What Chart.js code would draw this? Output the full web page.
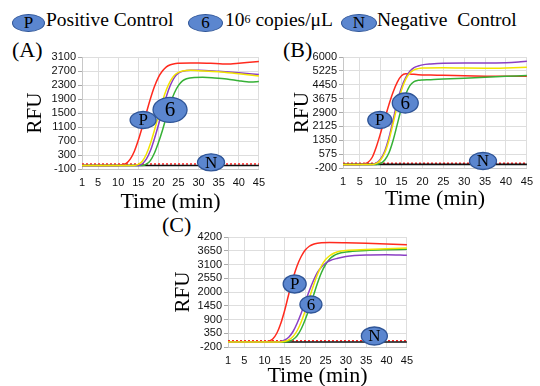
<!DOCTYPE html>
<html><head><meta charset="utf-8">
<script src="https://cdn.jsdelivr.net/npm/chart.js@4.4.1/dist/chart.umd.min.js"></script>
<style>
html,body{margin:0;padding:0;background:#fff;}
body{width:540px;height:386px;position:relative;overflow:hidden;font-family:"Liberation Serif",serif;color:#000;}
.cv{position:absolute;}
.plab{position:absolute;font:22px "Liberation Serif",serif;line-height:22px;}
.leg{position:absolute;top:9px;font:19.5px "Liberation Serif",serif;line-height:22px;white-space:nowrap;}
.ell{position:absolute;top:14px;height:18px;border-radius:50%;background:#5b86cf;border:1.3px solid #2f5597;box-sizing:border-box;text-align:center;font:17px "Liberation Serif",serif;line-height:16px;}
sup{font-size:12px;vertical-align:top;position:relative;top:-1px;}
</style></head>
<body>
<div class="ell" style="left:12px;width:33px">P</div><div class="leg" style="left:46px">Positive Control</div>
<div class="ell" style="left:188px;width:35px">6</div><div class="leg" style="left:225px">10<sup>6</sup> copies/μL</div>
<div class="ell" style="left:341px;width:36px">N</div><div class="leg" style="left:377px">Negative&nbsp; Control</div>

<div class="plab" style="left:12px;top:39px">(A)</div>
<div class="plab" style="left:283px;top:39px">(B)</div>
<div class="plab" style="left:162px;top:214px">(C)</div>

<canvas id="cA" class="cv" width="272" height="176" style="left:0;top:40px"></canvas>
<canvas id="cB" class="cv" width="270" height="176" style="left:270px;top:40px"></canvas>
<canvas id="cC" class="cv" width="260" height="168" style="left:160px;top:220px"></canvas>

<script>
// ---------- data ----------
const xTicks = [1,5,10,15,20,25,30,35,40,45];
const yTicksA = [-100,300,700,1100,1500,1900,2300,2700,3100];
const yTicksB = [-200,575,1350,2125,2900,3675,4450,5225,6000];
const yTicksC = [-200,350,900,1450,2000,2550,3100,3650,4200];

// Panel A
const aPosT = [1,10,11,12,13,14,15,16,17,18,19,20,21,22,23,24,25,28,30,33,36,38,40,42,45];
const aPosV = [0,0,20,60,180,400,720,1100,1500,1900,2250,2520,2700,2820,2880,2910,2920,2930,2930,2920,2900,2900,2920,2940,2970];
const aYelT = [1,14,15,16,17,18,19,20,21,22,23,24,25,26,28,30,35,40,45];
const aYelV = [0,0,30,120,320,620,1000,1420,1830,2170,2420,2580,2660,2700,2720,2710,2680,2620,2560];
const aPurT = [1,15,16,17,18,19,20,21,22,23,24,25,26,28,30,35,40,45];
const aPurV = [0,0,50,180,420,760,1150,1580,1980,2300,2520,2640,2690,2720,2720,2690,2650,2600];
const aGrnT = [1,16,17,18,19,20,21,22,23,24,25,26,27,29,31,34,37,40,42,43,45];
const aGrnV = [0,0,40,140,350,650,1000,1400,1780,2080,2290,2420,2480,2515,2520,2500,2470,2420,2390,2385,2400];

// Panel B
const bPosT = [1,5,6,7,8,9,10,11,12,13,14,15,16,17,19,22,25,30,35,40,45];
const bPosV = [0,0,20,120,400,1000,1750,2550,3350,4050,4600,4950,5060,5050,5010,4990,4980,4950,4930,4920,4920];
const bPurT = [1,8,9,10,11,12,13,14,15,16,17,18,19,20,22,25,30,35,40,43,45];
const bPurV = [0,0,80,300,750,1500,2500,3500,4300,4850,5200,5400,5500,5560,5610,5650,5660,5660,5680,5720,5760];
const bYelT = [1,8,9,10,11,12,13,14,15,16,17,18,19,20,25,30,35,40,45];
const bYelV = [0,0,60,250,650,1350,2300,3300,4150,4750,5100,5280,5350,5380,5400,5380,5370,5390,5430];
const bGrnT = [1,9,10,11,12,13,14,15,16,17,18,19,20,22,25,30,35,40,45];
const bGrnV = [0,0,60,250,650,1350,2250,3150,3900,4400,4630,4700,4720,4730,4770,4820,4870,4920,4970];

// Panel C
const cPosT = [1,10,11,12,13,14,15,16,17,18,19,20,21,22,23,24,26,30,35,40,45];
const cPosV = [0,0,30,120,350,750,1300,1950,2550,3050,3420,3680,3830,3910,3950,3970,3980,3970,3950,3920,3890];
const cPurT = [1,13,14,15,16,17,18,19,20,21,22,23,24,25,26,28,30,35,40,45];
const cPurV = [0,0,20,80,200,420,750,1150,1600,2050,2450,2780,3000,3150,3250,3350,3420,3480,3490,3470];
const cYelT = [1,14,15,16,17,18,19,20,21,22,23,24,25,26,27,28,30,35,40,45];
const cYelV = [0,0,30,90,220,450,800,1250,1750,2250,2700,3050,3300,3450,3550,3610,3660,3700,3730,3760];
const cGrnT = [1,15,16,17,18,19,20,21,22,23,24,25,26,27,28,30,35,40,45];
const cGrnV = [0,0,30,100,250,520,900,1350,1850,2350,2780,3100,3320,3450,3530,3600,3660,3690,3710];

// Negative control and threshold
const negT = [1,45];
const negV = [0,0];
const thrA = [40,40];
const thrB = [70,70];
const thrC = [55,55];

// ---------- helpers ----------
const pts = (t,v) => t.map((x,i)=>({x:x,y:v[i]}));
const COL = {pos:'#ff2a1e', yel:'#f2e400', pur:'#8a3fc4', grn:'#36b136', neg:'#111111'};

const badgePlugin = {
  id:'badges',
  afterDatasetsDraw(chart, args, opts){
    const ctx = chart.ctx, xs = chart.scales.x, ys = chart.scales.y;
    (opts.items||[]).forEach(b=>{
      const cx = xs.getPixelForValue(b.x), cy = ys.getPixelForValue(b.y);
      ctx.save();
      ctx.beginPath(); ctx.ellipse(cx,cy,b.rx,b.ry,0,0,Math.PI*2);
      ctx.fillStyle='#5b86cf'; ctx.fill();
      ctx.lineWidth=1.3; ctx.strokeStyle='#2f5597'; ctx.stroke();
      ctx.fillStyle='#000'; ctx.font=b.fs+'px "Liberation Serif"';
      ctx.textAlign='center'; ctx.textBaseline='middle';
      ctx.fillText(b.t,cx,cy+1);
      ctx.restore();
    });
  }
};

function makeChart(id, series, thr, yTicks, cfg){
  const ds = [
    {data:pts(series[1][0],series[1][1]), borderColor:COL.yel},
    {data:pts(series[2][0],series[2][1]), borderColor:COL.pur},
    {data:pts(series[3][0],series[3][1]), borderColor:COL.grn},
    {data:pts(series[0][0],series[0][1]), borderColor:COL.pos},
    {data:pts(negT,negV), borderColor:COL.neg, borderWidth:1.6},
    {data:pts(negT,thr), borderColor:'#ff2020', borderDash:[2,2], borderWidth:1.5}
  ].map(d=>Object.assign({borderWidth:1.5, pointRadius:0, cubicInterpolationMode:'monotone', fill:false}, d));
  return new Chart(document.getElementById(id), {
    type:'line',
    data:{datasets:ds},
    options:{
      responsive:false, animation:false, devicePixelRatio:1,
      layout:{padding:{top:cfg.padTop, right:cfg.padRight, left:0, bottom:0}},
      plugins:{legend:{display:false}, tooltip:{enabled:false}, badges:{items:cfg.badges}},
      scales:{
        x:{type:'linear', min:1, max:45,
           afterBuildTicks:s=>{s.ticks = xTicks.map(v=>({value:v}));},
           afterFit:s=>{s.height = cfg.xH;},
           grid:{color:'#dedede', lineWidth:1, drawTicks:false},
           border:{color:'#c8c8c8'},
           ticks:{padding:cfg.xTickPad, maxRotation:0, autoSkip:false, color:'#111', font:{family:'"Liberation Sans"', size:11}, callback:v=>String(v)},
           title:{display:true, text:'Time (min)', color:'#000', font:{family:'"Liberation Serif"', size:22, lineHeight:1}, padding:{top:0,bottom:cfg.xTitlePad}}
        },
        y:{type:'linear', min:yTicks[0], max:yTicks[yTicks.length-1],
           afterBuildTicks:s=>{s.ticks = yTicks.map(v=>({value:v}));},
           afterFit:s=>{s.width = cfg.yW;},
           grid:{color:'#dedede', lineWidth:1, tickLength:4, tickColor:'#aaaaaa'},
           border:{color:'#c8c8c8'},
           ticks:{padding:2, autoSkip:false, color:'#111', font:{family:'"Liberation Sans"', size:11}, callback:v=>String(v)},
           title:{display:true, text:'RFU', color:'#000', font:{family:'"Liberation Serif"', size:21, lineHeight:1}, padding:{top:cfg.yTitlePad,bottom:0}}
        }
      }
    },
    plugins:[badgePlugin]
  });
}

makeChart('cA', [[aPosT,aPosV],[aYelT,aYelV],[aPurT,aPurV],[aGrnT,aGrnV]], thrA, yTicksA, {
  padTop:17, padRight:4, yW:82, xH:47, xTickPad:7, xTitlePad:3, yTitlePad:24.5,
  badges:[{t:'P',x:16.2,y:1300,rx:13,ry:8.5,fs:17},{t:'6',x:22.9,y:1590,rx:17,ry:12.5,fs:21},{t:'N',x:33.1,y:90,rx:13.5,ry:8.5,fs:17}]
});
makeChart('cB', [[bPosT,bPosV],[bYelT,bYelV],[bPurT,bPurV],[bGrnT,bGrnV]], thrB, yTicksB, {
  padTop:17, padRight:8, yW:73, xH:48, xTickPad:7, xTitlePad:6, yTitlePad:21.5,
  badges:[{t:'P',x:9.8,y:2480,rx:12,ry:8.5,fs:17},{t:'6',x:15.9,y:3430,rx:13,ry:10,fs:19},{t:'N',x:34.5,y:190,rx:13.5,ry:8.5,fs:17}]
});
makeChart('cC', [[cPosT,cPosV],[cYelT,cYelV],[cPurT,cPurV],[cGrnT,cGrnV]], thrC, yTicksC, {
  padTop:17, padRight:7, yW:68, xH:41, xTickPad:7, xTitlePad:1, yTitlePad:12.5,
  badges:[{t:'P',x:17.4,y:2320,rx:11.5,ry:9,fs:17},{t:'6',x:21.4,y:1500,rx:11,ry:8.5,fs:17},{t:'N',x:37,y:240,rx:13,ry:9,fs:17}]
});
</script>
</body></html>
